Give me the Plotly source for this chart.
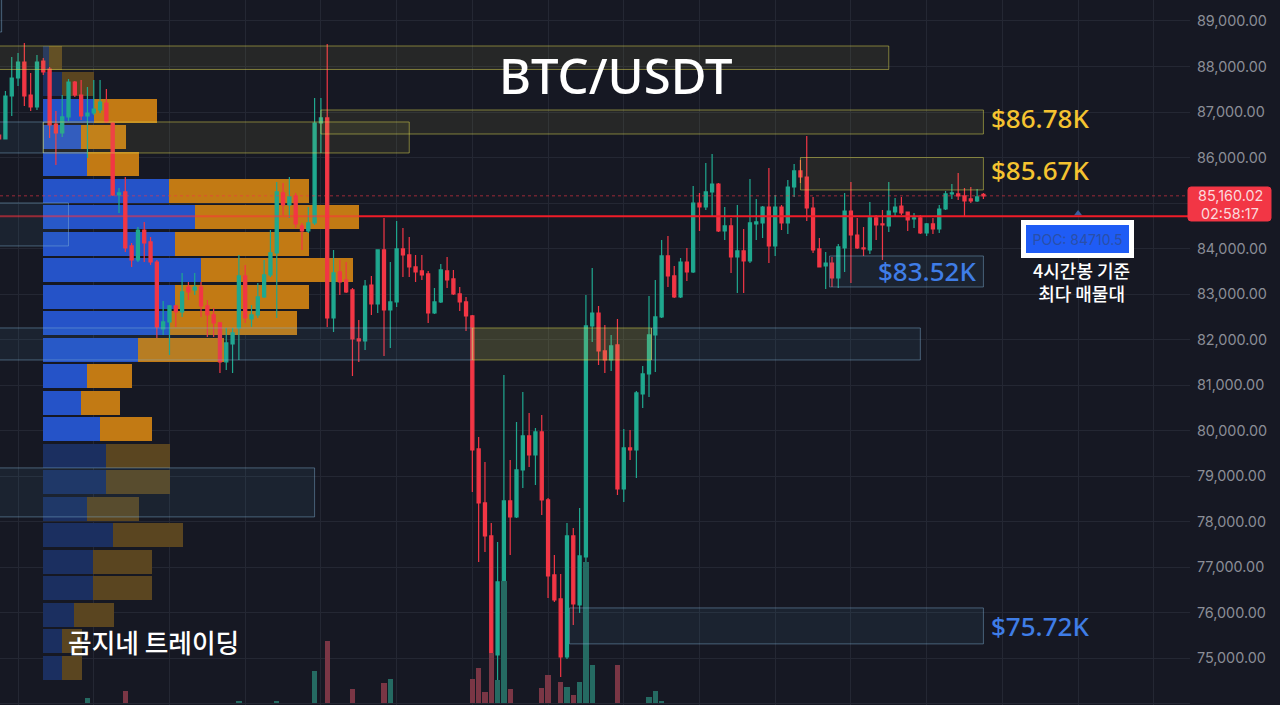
#!/usr/bin/env python
import plotly.graph_objects as go

bar_index = list(range(-1, 156))
opens = [86496, 86409, 87353, 87748, 88099, 87375, 87111, 88121, 87946, 86738,
         86540, 86892, 87660, 87375, 86914, 86979, 87045, 87199, 86760, 85179,
         85245, 84059, 83751, 84410, 84147, 83707, 82236, 82390, 82741, 82609,
         83158, 83093, 83158, 82741, 82544, 82368, 81511, 81907, 82258, 83400,
         82456, 82544, 82939, 83422, 83905, 85223, 84959, 85157, 84498, 84388,
         84564, 86760, 86870, 82478, 83488, 83312, 83093, 82017, 81973, 83202,
         82785, 83971, 82653, 82829, 83993, 83861, 83598, 83510, 83444, 82587,
         82829, 83510, 83334, 83005, 82829, 82522, 79601, 78415, 77690, 75077,
         76658, 78459, 78108, 79140, 79887, 79469, 79974, 78481, 76834, 76307,
         75033, 77690, 76175, 77229, 82302, 82587, 81753, 81555, 81885, 78722,
         79623, 79579, 80809, 81248, 82104, 82500, 83839, 83400, 82939, 83707,
         83488, 85003, 84915, 85245, 85420, 84388, 84498, 83817, 83949, 83729,
         84542, 84564, 84915, 84059, 84915, 84564, 85354, 85706, 85574, 84893,
         83993, 83620, 83685, 83356, 84015, 84827, 84300, 84015, 83971, 84674,
         84542, 84498, 84805, 84937, 84805, 84652, 84674, 84344, 84542, 84432,
         84871, 85201, 85201, 85157, 85091, 85047, 85190]
highs = [86606, 87463, 88209, 88297, 88517, 87858, 88253, 88187, 87990, 87023,
         87375, 87726, 87682, 87704, 87550, 87704, 87704, 87507, 86782, 85332,
         85574, 84125, 84476, 84586, 84257, 83751, 82851, 82763, 82763, 83466,
         83268, 83466, 83268, 82873, 82697, 82390, 82258, 82258, 83861, 83642,
         82763, 83246, 83751, 84410, 85464, 85442, 85574, 85223, 84564, 84915,
         87309, 87309, 88495, 83971, 83751, 83707, 83137, 82434, 83312, 83400,
         83971, 84674, 83707, 84608, 84454, 84257, 83861, 83861, 83510, 83137,
         83664, 83817, 83532, 83158, 82939, 82544, 79865, 79315, 77976, 77559,
         81226, 79359, 80194, 80853, 80391, 80062, 80348, 78525, 77273, 76856,
         77976, 77866, 78305, 82983, 83576, 82741, 82324, 82104, 82456, 80040,
         80018, 80875, 81424, 82961, 83312, 84191, 84278, 83620, 83795, 84015,
         85376, 85223, 85881, 86079, 85442, 84915, 84674, 84959, 84432, 85530,
         85091, 84937, 85772, 85179, 84959, 85508, 85860, 85947, 86474, 85135,
         84235, 83927, 83817, 84103, 85223, 85464, 84674, 84476, 85025, 84740,
         84849, 85464, 85113, 85135, 84805, 84784, 84740, 84564, 84674, 84959,
         85267, 85420, 85662, 85332, 85354, 85311, 85223]
lows = [86343, 86400, 86914, 87572, 87133, 87023, 87045, 87814, 86431, 85838,
        86453, 86804, 87331, 86826, 85991, 86936, 86979, 86760, 85157, 84784,
        83927, 83598, 83707, 83707, 83642, 82038, 82104, 81665, 82280, 82500,
        82873, 82983, 82500, 82060, 82060, 81270, 81336, 81270, 81555, 82368,
        82280, 82478, 82917, 83378, 82478, 84740, 84674, 84454, 83971, 84344,
        84520, 86101, 82280, 82170, 82983, 83027, 81204, 81511, 81775, 82544,
        82587, 81643, 81819, 82719, 83378, 83378, 83268, 83312, 82368, 82566,
        82807, 83137, 82983, 82631, 82192, 78657, 77120, 77339, 74308, 74528,
        75407, 77273, 78086, 78744, 79206, 78810, 78152, 76329, 76241, 74594,
        74989, 75736, 76000, 77120, 81951, 81446, 81270, 81314, 78591, 78437,
        79359, 78964, 80501, 80743, 81292, 82478, 83158, 82917, 82917, 83290,
        83466, 84388, 84849, 84696, 84366, 84191, 83466, 83027, 83027, 83685,
        84191, 84235, 83685, 83839, 84410, 84322, 85135, 85442, 84608, 83905,
        83598, 83115, 83158, 83137, 83488, 83246, 83993, 83839, 83883, 84191,
        83751, 84366, 84696, 84740, 84388, 84454, 84322, 84278, 84322, 84344,
        84849, 85091, 85069, 84696, 85003, 85025, 85091]
closes = [86409, 87353, 87748, 88099, 87353, 87111, 88099, 87880, 86716, 86540,
          86892, 87660, 87375, 86914, 86979, 87067, 87221, 86782, 85179, 85223,
          84015, 83751, 84410, 84125, 83707, 82280, 82390, 82741, 82609, 83049,
          83049, 83158, 82741, 82544, 82368, 81511, 81929, 82148, 83400, 82478,
          82544, 82939, 83422, 83905, 85245, 84959, 85135, 84542, 84388, 84564,
          86760, 86870, 82478, 83466, 83268, 83049, 82017, 81973, 83180, 82785,
          83971, 82653, 82829, 83993, 83861, 83598, 83488, 83422, 82587, 82829,
          83532, 83312, 83005, 82829, 82522, 79579, 78415, 77690, 75077, 76680,
          78459, 78108, 79140, 79887, 79469, 79974, 78481, 76812, 76285, 75033,
          77690, 76197, 77251, 82302, 82587, 81753, 81555, 81863, 78722, 79623,
          79579, 80831, 81248, 82104, 82500, 83839, 83400, 82939, 83707, 83488,
          85003, 84915, 85245, 85420, 84388, 84498, 83817, 83949, 83729, 84564,
          84586, 84915, 84059, 84915, 84564, 85354, 85706, 85574, 84893, 83971,
          83598, 83685, 83356, 84037, 84827, 84300, 84015, 83993, 84674, 84520,
          84520, 84827, 84915, 84784, 84630, 84674, 84344, 84542, 84432, 84871,
          85201, 85223, 85157, 85047, 85047, 85135, 85160]

# volume pane, only the bars tall enough to show
vol_index = [13, 19, 37, 43, 49, 51, 55, 60, 61, 74, 75, 76, 77, 78, 79, 80, 85, 86,
             88, 89, 90, 91, 92, 93, 97, 102, 103, 104]
vol_values = [5, 12, 2, 2, 32, 62, 14, 20, 24, 24, 35, 11, 50, 23, 122, 14, 15, 28,
              21, 16, 8, 21, 141, 38, 38, 6, 12, 2]

# volume profile
profile_price = [88190, 87607, 87025, 86442, 85860, 85277, 84694, 84112, 83529, 82947,
                 82364, 81781, 81199, 80616, 80034, 79451, 78869, 78286, 77703, 77121,
                 76538, 75956, 75373, 74790]
profile_buy = [6, 19, 51, 38, 44, 126, 152, 132, 158, 132, 127, 95,
               44, 38, 57, 63, 63, 44, 70, 50, 50, 31, 19, 19]
profile_sell = [13, 32, 63, 45, 52, 140, 164, 134, 152, 134, 127, 86,
                45, 39, 52, 64, 64, 52, 70, 59, 59, 40, 20, 20]
value_area = [False, False] + [True] * 13 + [False] * 9

# price scale, the 85,000 label sits under the price tag in the original
tick_prices = [89000, 88000, 87000, 86000, 85000, 84000, 83000, 82000,
               81000, 80000, 79000, 78000, 77000, 76000, 75000, 74000]
tick_labels = ["89,000.00", "88,000.00", "87,000.00", "86,000.00", "", "84,000.00", "83,000.00", "82,000.00",
               "81,000.00", "80,000.00", "79,000.00", "78,000.00", "77,000.00", "76,000.00", "75,000.00", "74,000.00"]

# zones: first bar, last bar, upper price, lower price
yellow_zones = [(-1, 140, 88451, 87935), (50, 155, 87045, 86518), (6, 64, 86782, 86101),
                (126, 155, 86002, 85289), (74, 102.4, 82258, 81555)]
blue_zones = [(-1, 74, 82258, 81555), (102.4, 145, 82258, 81555), (130.6, 155, 83839, 83158),
              (-1, 10, 85003, 84059), (-1, 49, 79184, 78108), (89.4, 155, 76109, 75319),
              (-1, 6, 86782, 86101), (-2, -0.6, 89500, 88758)]

last_price = 85160.02
poc_price = 84710.5
poc_start_bar = 56
poc_marker_bar = 170

BG = "#161823"
GRID = "#242733"
UP = "#1fa88f"
DOWN = "#f23645"
PLOT_W = 1190
H = 705

fig = go.Figure()

# profile goes on the main axes so the candles draw on top of it
fig.add_trace(go.Bar(y=profile_price, x=profile_buy, orientation="h", width=527,
                     marker=dict(color=["#2553c8" if v else "#1b2f60" for v in value_area], line_width=0),
                     xaxis="x", yaxis="y"))
fig.add_trace(go.Bar(y=profile_price, x=profile_sell, orientation="h", width=527,
                     marker=dict(color=["#c27a14" if v else "#5a4520" for v in value_area], line_width=0),
                     xaxis="x", yaxis="y"))

fig.add_trace(go.Candlestick(x=bar_index, open=opens, high=highs, low=lows, close=closes,
                             increasing=dict(line=dict(color=UP, width=1.2), fillcolor=UP),
                             decreasing=dict(line=dict(color=DOWN, width=1.2), fillcolor=DOWN),
                             whiskerwidth=0, xaxis="x2", yaxis="y"))

vol_colors = ["#256a62" if closes[i + 1] >= opens[i + 1] else "#7a3645" for i in vol_index]
fig.add_trace(go.Bar(x=vol_index, y=vol_values, width=0.85,
                     marker=dict(color=vol_colors, line_width=0),
                     xaxis="x2", yaxis="y2"))

fig.add_trace(go.Scatter(x=[poc_marker_bar], y=[poc_price + 60], mode="markers",
                         marker=dict(symbol="triangle-up", size=7, color="#3c5c9c"),
                         xaxis="x2", yaxis="y"))

shapes = []
for x0, x1, y0, y1 in blue_zones:
    shapes.append(dict(type="rect", xref="x2", yref="y", x0=x0, x1=x1, y0=y0, y1=y1, layer="above",
                       line=dict(color="rgba(130,180,215,0.45)", width=1), fillcolor="rgba(80,150,190,0.09)"))
for n, (x0, x1, y0, y1) in enumerate(yellow_zones):
    # the last zone (inside the blue band) is drawn heavier
    alpha = 0.2 if n == 4 else 0.09
    shapes.append(dict(type="rect", xref="x2", yref="y", x0=x0, x1=x1, y0=y0, y1=y1, layer="above",
                       line=dict(color="rgba(225,220,80,0.5)", width=1), fillcolor="rgba(205,205,90,%s)" % alpha))
# last price dots and POC line
shapes.append(dict(type="line", xref="paper", yref="y", x0=0, x1=1, y0=last_price, y1=last_price, layer="above",
                   line=dict(color="rgba(242,54,69,0.6)", width=1, dash="dot")))
shapes.append(dict(type="line", xref="x2", yref="y", x0=-1, x1=poc_start_bar, y0=poc_price, y1=poc_price, layer="above",
                   line=dict(color="rgba(255,50,60,0.55)", width=2)))
shapes.append(dict(type="line", xref="x2", yref="y", x0=poc_start_bar, x1=187.7, y0=poc_price, y1=poc_price, layer="above",
                   line=dict(color="#f01c28", width=2)))


def rounded_tag(left, right, top, bottom, r=3):
    # paper coords from picture pixels
    fx = lambda v: v / PLOT_W
    fy = lambda v: 1 - v / H
    return ("M %f %f L %f %f Q %f %f %f %f L %f %f Q %f %f %f %f L %f %f Q %f %f %f %f L %f %f Q %f %f %f %f Z" % (
        fx(left + r), fy(top), fx(right - r), fy(top), fx(right), fy(top), fx(right), fy(top + r),
        fx(right), fy(bottom - r), fx(right), fy(bottom), fx(right - r), fy(bottom),
        fx(left + r), fy(bottom), fx(left), fy(bottom), fx(left), fy(bottom - r),
        fx(left), fy(top + r), fx(left), fy(top), fx(left + r), fy(top)))


shapes.append(dict(type="path", xref="paper", yref="paper", path=rounded_tag(1188, 1271, 187, 221), layer="above",
                   line=dict(color=DOWN, width=1), fillcolor=DOWN))


def label(px, py, text, size, color, family="Noto Sans", weight=500, **kw):
    return dict(xref="paper", yref="paper", x=px / PLOT_W, y=1 - py / H, text=text, showarrow=False,
                xanchor="center", yanchor="middle",
                font=dict(size=size, color=color, family=family, weight=weight), **kw)


CJK = "Noto Sans CJK KR"
annotations = [
    label(615.5, 75, "BTC/USDT", 49, "#ffffff"),
    label(1040, 118, "$86.78K", 26, "#f5c330"),
    label(1040, 170, "$85.67K", 26, "#f5c330"),
    label(927, 271, "$83.52K", 26, "#3f7de6"),
    label(1040, 626, "$75.72K", 26, "#3f7de6"),
    label(153.5, 641, "곰지네 트레이딩", 25.7, "#ffffff", CJK),
    label(1081, 281.5, "4시간봉 기준<br>최다 매물대", 18, "#ffffff", CJK),
    label(1077, 239, "POC: 84710.5", 14, "#2a4fa8", "Inter", 400, bgcolor="#1f5cf5", bordercolor="#ffffff",
          borderwidth=5, borderpad=0, width=103, height=28),
    label(1230, 196, "85,160.02", 14.4, "#fbd9dc", "Inter", 400),
    label(1230, 213, "02:58:17", 14.4, "#fbd9dc", "Inter", 400),
]

fig.update_layout(
    width=1280, height=H,
    margin=dict(l=0, r=1280 - PLOT_W, t=0, b=0),
    paper_bgcolor=BG, plot_bgcolor=BG,
    showlegend=False, barmode="stack", hovermode=False,
    shapes=shapes, annotations=annotations,
    xaxis=dict(range=[-43, PLOT_W - 43], visible=False, fixedrange=True),
    xaxis2=dict(range=[-0.86, 187.74], overlaying="x", side="top", showticklabels=False, showgrid=True,
                gridcolor=GRID, gridwidth=1, tick0=2, dtick=12, zeroline=False, rangeslider=dict(visible=False)),
    yaxis=dict(range=[73977, 89461], side="right", tickvals=tick_prices, ticktext=tick_labels,
               gridcolor=GRID, gridwidth=1, zeroline=False, showline=False,
               ticks="outside", ticklen=3, tickcolor=BG,
               tickfont=dict(family="Inter", size=14.4, color="#8b8e97")),
    yaxis2=dict(range=[-2, 703], overlaying="y", visible=False),
)

fig.write_html("out.html", config=dict(displayModeBar=False),
               post_script="document.body.style.margin='0';document.body.style.background='%s';" % BG)
